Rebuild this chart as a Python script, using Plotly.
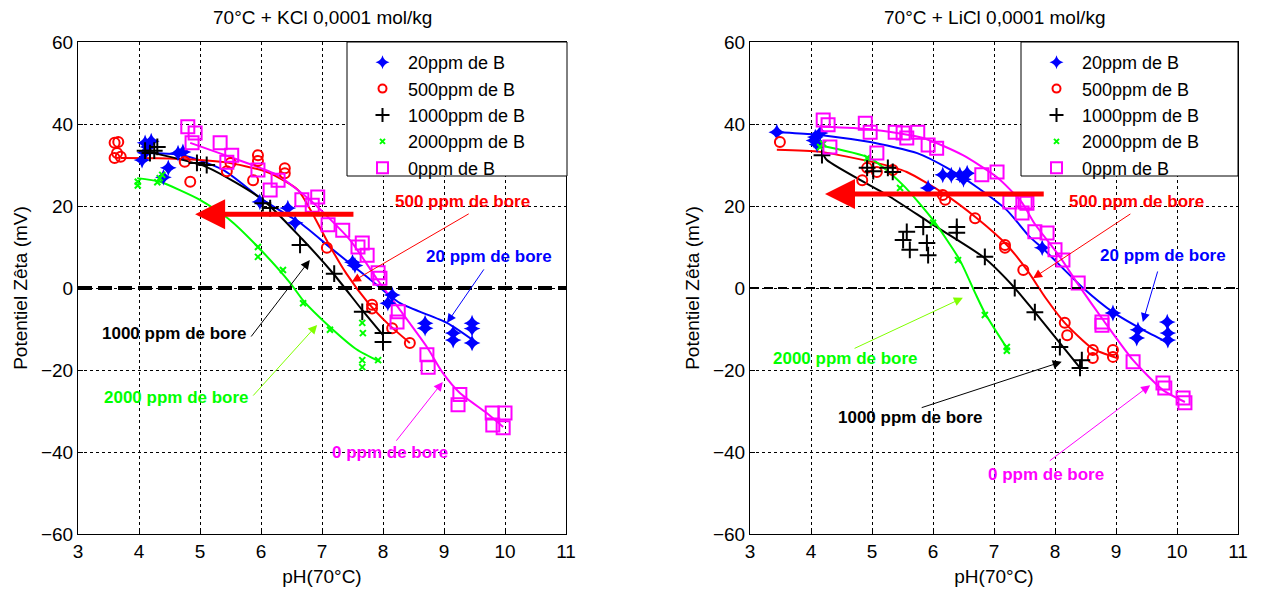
import plotly.graph_objects as go

# ---------------- data : left panel (KCl) ----------------
k20_x = [4.10, 4.15, 4.20, 4.05, 4.10, 4.48, 4.40, 4.64, 4.72, 5.98, 6.44, 6.56, 7.50, 7.54, 8.15, 8.08, 8.69, 8.69, 9.15, 9.15, 9.46, 9.46, 9.46]
k20_y = [35.4, 34.4, 35.8, 31.2, 33.0, 29.3, 27.0, 32.9, 33.2, 21.0, 19.5, 15.9, 6.3, 5.5, -1.7, -3.7, -8.6, -9.8, -11.0, -12.7, -8.6, -9.9, -13.4]
k20_fit_x = [4.02, 4.72, 5.38, 6.03, 6.64, 7.18, 7.74, 8.28, 9.05, 9.54]
k20_fit_y = [32.9, 32.4, 28.8, 21.5, 15.9, 9.3, 2.7, -3.7, -8.5, -13.4]

k500_x = [3.60, 3.66, 3.64, 3.60, 3.70, 4.75, 4.84, 5.44, 5.50, 5.95, 5.95, 5.87, 6.39, 6.39, 7.08, 7.82, 7.82, 8.15, 8.44]
k500_y = [35.4, 35.6, 32.9, 31.7, 32.0, 30.8, 25.9, 28.5, 30.5, 32.4, 31.0, 26.3, 29.2, 28.0, 9.8, -4.1, -5.0, -9.8, -13.4]
k500_fit_x = [3.70, 4.50, 5.40, 6.10, 6.60, 6.85, 7.10, 7.40, 7.75, 8.10, 8.44]
k500_fit_y = [31.7, 31.6, 30.7, 28.3, 24.0, 18.0, 11.0, 3.5, -3.5, -9.0, -13.4]

k1000_x = [4.30, 4.18, 4.10, 4.25, 4.95, 5.11, 6.03, 6.15, 6.64, 7.20, 7.66, 8.00, 8.00]
k1000_y = [34.4, 32.9, 33.5, 33.5, 30.5, 30.0, 20.7, 19.5, 10.5, 3.5, -5.8, -11.0, -13.2]
k1000_fit_x = [4.15, 5.11, 6.03, 6.67, 7.18, 7.66, 8.00]
k1000_fit_y = [33.2, 29.5, 21.5, 12.0, 3.6, -5.4, -11.5]

k2000_x = [3.98, 3.98, 4.34, 4.38, 4.30, 5.95, 5.95, 6.36, 6.69, 7.13, 7.66, 7.66, 7.92, 7.66, 7.67]
k2000_y = [25.9, 25.0, 26.8, 27.6, 25.8, 10.0, 7.6, 4.4, -3.7, -10.2, -17.6, -19.3, -17.6, -8.5, -11.0]
k2000_fit_x = [3.97, 4.34, 5.00, 5.49, 5.95, 6.48, 6.69, 7.13, 7.57, 7.95]
k2000_fit_y = [26.8, 25.9, 21.5, 16.6, 10.0, 1.2, -3.0, -9.5, -15.0, -18.0]

k0_x = [4.80, 4.92, 4.87, 5.33, 5.52, 5.44, 5.95, 6.15, 6.28, 6.67, 6.93, 6.84, 7.10, 7.34, 7.59, 7.66, 7.74, 7.92, 7.95,
        8.25, 8.23, 8.72, 8.74, 9.26, 9.23, 9.79, 10.00, 9.80, 9.97]
k0_y = [39.3, 37.8, 35.4, 35.4, 32.4, 30.7, 28.8, 23.9, 26.3, 21.5, 22.2, 20.2, 15.4, 14.1, 10.0, 11.0, 8.0, 3.7, 2.4,
        -5.8, -8.3, -16.3, -19.3, -26.0, -28.5, -30.5, -30.5, -33.4, -34.1]
k0_fit_x = [4.84, 5.54, 6.26, 6.80, 7.46, 7.90, 8.28, 8.72, 8.98, 9.26, 9.70, 9.97]
k0_fit_y = [35.4, 31.7, 27.6, 21.5, 11.7, 2.2, -5.4, -14.4, -20.7, -25.6, -30.5, -33.9]

# ---------------- data : right panel (LiCl) ----------------
l20_x = [3.44, 4.07, 4.10, 4.15, 4.05, 5.92, 6.16, 6.44, 6.56, 6.50, 6.30, 7.79, 8.95, 9.36, 9.34, 9.84, 9.85, 9.85]
l20_y = [38.0, 36.8, 35.0, 37.8, 36.0, 24.4, 27.6, 27.6, 28.0, 26.5, 27.5, 9.8, -6.1, -10.2, -12.2, -8.3, -11.0, -12.7]
l20_fit_x = [3.44, 4.03, 4.97, 5.74, 6.23, 6.74, 7.21, 7.59, 7.79, 8.46, 8.95, 9.44, 9.84]
l20_fit_y = [38.0, 37.5, 35.6, 32.9, 29.3, 24.4, 19.0, 12.4, 9.8, 0.0, -5.9, -10.2, -13.2]

l500_x = [3.49, 4.84, 4.92, 5.08, 5.34, 6.16, 6.20, 6.69, 7.18, 7.18, 7.48, 8.16, 8.20, 8.62, 8.62, 8.95, 8.95]
l500_y = [35.6, 26.3, 29.3, 28.3, 28.8, 22.7, 21.5, 17.0, 10.5, 9.8, 4.4, -8.5, -11.5, -15.1, -17.1, -15.1, -16.8]
l500_fit_x = [3.44, 4.15, 5.02, 5.57, 6.16, 6.72, 7.21, 7.54, 7.85, 8.16, 8.62, 9.02]
l500_fit_y = [33.7, 33.2, 30.7, 28.3, 23.2, 17.0, 10.5, 4.4, -2.5, -8.5, -14.8, -17.1]

l1000_x = [4.18, 4.92, 5.02, 5.26, 5.34, 5.57, 5.51, 5.62, 5.84, 5.90, 5.92, 6.39, 6.39, 6.85, 7.34, 7.67, 8.08, 8.44, 8.41]
l1000_y = [32.4, 29.3, 28.5, 29.3, 28.3, 13.7, 11.7, 9.3, 14.9, 11.0, 8.0, 14.9, 13.5, 7.6, 0.0, -5.9, -14.4, -17.6, -19.5]
l1000_fit_x = [4.18, 4.26, 5.30, 5.95, 6.82, 7.34, 7.67, 8.41]
l1000_fit_y = [33.2, 31.2, 22.2, 15.9, 7.6, 0.0, -5.9, -19.5]

l2000_x = [4.15, 4.20, 4.92, 5.46, 6.00, 6.41, 6.85, 7.21, 7.21]
l2000_y = [34.4, 35.2, 31.7, 24.4, 15.9, 6.8, -6.6, -14.4, -15.3]
l2000_fit_x = [4.11, 4.97, 5.51, 6.00, 6.44, 6.69, 6.85, 7.23]
l2000_fit_y = [34.9, 31.7, 25.1, 16.6, 6.8, -1.2, -6.1, -15.1]

l0_x = [4.20, 4.28, 4.31, 4.89, 4.97, 5.08, 5.38, 5.51, 5.57, 5.75, 5.92, 6.06, 6.80, 7.05, 7.26, 7.46, 7.51, 7.54,
        7.67, 7.87, 8.00, 8.13, 8.38, 8.77, 8.77, 9.28, 9.77, 9.80, 10.10, 10.13]
l0_y = [41.0, 39.8, 34.4, 40.2, 38.0, 32.9, 38.0, 37.8, 36.6, 38.0, 34.9, 34.1, 27.6, 28.3, 21.0, 18.3, 21.0, 20.7,
        13.7, 13.4, 9.3, 6.8, 1.2, -8.3, -9.1, -18.0, -23.2, -24.4, -26.8, -28.0]
l0_fit_x = [4.20, 4.97, 5.84, 6.49, 7.05, 7.45, 7.67, 8.08, 8.41, 8.79, 9.28, 9.77, 10.13]
l0_fit_y = [39.3, 38.7, 36.6, 32.4, 27.0, 21.0, 15.6, 7.6, 0.2, -7.8, -17.6, -24.9, -27.8]

# ---------------- labels ----------------
titles = ["70°C + KCl 0,0001 mol/kg", "70°C + LiCl 0,0001 mol/kg"]
legend_names = ["20ppm de B", "500ppm de B", "1000ppm de B", "2000ppm de B", "0ppm de B"]
x_title = "pH(70°C)"
y_title = "Potentiel Zêta (mV)"
x_ticks = [3, 4, 5, 6, 7, 8, 9, 10, 11]
y_ticks = [-60, -40, -20, 0, 20, 40, 60]

# annotation labels: text, text x, text y, arrow tail x, tail y, head x, head y
k_notes = [
    ("500 ppm de bore", 9.31, 21.0, 9.43, 18.3, 7.49, 1.5),
    ("20 ppm de bore", 9.74, 7.6, 9.67, 4.9, 9.05, -8.5),
    ("1000 ppm de bore", 4.58, -11.0, 5.82, -12.2, 6.80, 6.8),
    ("2000 ppm de bore", 4.61, -26.6, 5.85, -26.6, 6.92, -9.0),
    ("0 ppm de bore", 8.11, -40.2, 8.20, -37.6, 8.98, -22.9),
]
l_notes = [
    ("500 ppm de bore", 9.33, 21.0, 9.26, 18.3, 7.64, 2.4),
    ("20 ppm de bore", 9.77, 8.0, 9.69, 4.4, 9.44, -8.3),
    ("2000 ppm de bore", 4.57, -17.1, 4.69, -14.9, 6.49, -2.4),
    ("1000 ppm de bore", 5.63, -31.7, 5.79, -29.3, 8.11, -18.0),
    ("0 ppm de bore", 7.85, -45.6, 7.89, -42.4, 9.56, -23.7),
]
k_big_arrow = (7.54, 18.0, 4.92, 18.0)
l_big_arrow = (7.84, 22.9, 4.23, 22.9)

# ---------------- styles ----------------
BLUE, RED, BLACK, GREEN, MAG = "#0000ff", "#ff0000", "#000000", "#00ff00", "#ff00ff"
series_colors = [BLUE, RED, BLACK, GREEN, MAG]
symbols = ["star-diamond", "circle-open", "cross-thin", "x-thin", "square-open"]
sizes = [12, 10, 12, 6, 13]
legend_sizes = [10, 8, 10, 5, 11]
note_text_colors = {"500": RED, "20 ": BLUE, "100": BLACK, "200": GREEN, "0 p": MAG}
note_arrow_colors = {"500": RED, "20 ": BLUE, "100": BLACK, "200": "#80ff00", "0 p": MAG}
FONT = "Arial, Liberation Sans, sans-serif"

W, H = 1261, 590
def px(v):
    return v / W
def py(v):
    return 1 - v / H

fig = go.Figure()

panels = [
    ("x", "y", "legend",
     [(k20_x, k20_y, k20_fit_x, k20_fit_y), (k500_x, k500_y, k500_fit_x, k500_fit_y),
      (k1000_x, k1000_y, k1000_fit_x, k1000_fit_y), (k2000_x, k2000_y, k2000_fit_x, k2000_fit_y),
      (k0_x, k0_y, k0_fit_x, k0_fit_y)]),
    ("x2", "y2", "legend2",
     [(l20_x, l20_y, l20_fit_x, l20_fit_y), (l500_x, l500_y, l500_fit_x, l500_fit_y),
      (l1000_x, l1000_y, l1000_fit_x, l1000_fit_y), (l2000_x, l2000_y, l2000_fit_x, l2000_fit_y),
      (l0_x, l0_y, l0_fit_x, l0_fit_y)]),
]

for xa, ya, leg, series in panels:
    for i, (sx, sy, fx, fy) in enumerate(series):
        fig.add_trace(go.Scatter(x=fx, y=fy, mode="lines", xaxis=xa, yaxis=ya,
                                 line=dict(color=series_colors[i], width=2, shape="spline", smoothing=0.6),
                                 showlegend=False, hoverinfo="skip"))
    for i, (sx, sy, fx, fy) in enumerate(series):
        fig.add_trace(go.Scatter(x=sx, y=sy, mode="markers", xaxis=xa, yaxis=ya,
                                 name=legend_names[i], showlegend=False, legendgroup=leg + str(i),
                                 marker=dict(symbol=symbols[i], size=sizes[i], color=series_colors[i],
                                             line=dict(color=series_colors[i], width=2 if i != 0 else 0))))
    # legend entries (smaller symbols, as in the original legend box)
    for i in range(len(series)):
        fig.add_trace(go.Scatter(x=[None], y=[None], mode="markers", xaxis=xa, yaxis=ya,
                                 name=legend_names[i], legend=leg, legendgroup=leg + str(i),
                                 marker=dict(symbol=symbols[i], size=legend_sizes[i], color=series_colors[i],
                                             line=dict(color=series_colors[i], width=2 if i != 0 else 0))))

axis_common = dict(showgrid=True, gridcolor="black", griddash="3px,3px", gridwidth=1,
                   showline=True, linecolor="black", linewidth=1, mirror=True, zeroline=False,
                   ticks="inside", ticklen=5, tickcolor="black", automargin=False,
                   tickfont=dict(family=FONT, size=19, color="black"))

xdom = [[px(78), px(566)], [px(750), px(1238)]]
ydom = [py(534), py(42)]

for j, (xa, ya) in enumerate([("xaxis", "yaxis"), ("xaxis2", "yaxis2")]):
    ax = dict(axis_common)
    ax.update(range=[3, 11], tickvals=x_ticks, domain=xdom[j],
              anchor="y" if j == 0 else "y2",
              title=dict(text=x_title, font=dict(family=FONT, size=19, color="black"), standoff=8))
    ay = dict(axis_common)
    ay.update(range=[-60, 60], tickvals=y_ticks, domain=ydom,
              anchor="x" if j == 0 else "x2",
              title=dict(text=y_title, font=dict(family=FONT, size=19, color="black"), standoff=8))
    fig.layout[xa] = ax
    fig.layout[ya] = ay

shapes = []
shapes.append(dict(type="line", xref="x", yref="y", x0=3, x1=11, y0=0, y1=0,
                   line=dict(color="black", width=4, dash="14px,6px"), layer="above"))
shapes.append(dict(type="line", xref="x2", yref="y2", x0=3, x1=11, y0=0, y1=0,
                   line=dict(color="black", width=2, dash="9px,5px"), layer="above"))
for (l, r) in [(347, 567), (1021, 1238)]:
    shapes.append(dict(type="rect", xref="paper", yref="paper", x0=px(l), x1=px(r), y0=py(176), y1=py(42),
                       line=dict(color="black", width=1), fillcolor="white", layer="above"))
fig.update_layout(shapes=shapes)

annotations = []
for j, t in enumerate(titles):
    annotations.append(dict(text=t, xref="paper", yref="paper", x=px(322 if j == 0 else 994), y=py(18),
                            showarrow=False, xanchor="center", yanchor="middle",
                            font=dict(family=FONT, size=19, color="black")))

for xa, ya, notes, big in [("x", "y", k_notes, k_big_arrow), ("x2", "y2", l_notes, l_big_arrow)]:
    for (txt, tx, ty, ax0, ay0, hx, hy) in notes:
        key = txt[:3]
        annotations.append(dict(text="", x=hx, y=hy, ax=ax0, ay=ay0, xref=xa, yref=ya, axref=xa, ayref=ya,
                                showarrow=True, arrowhead=2, arrowsize=1.8, arrowwidth=1,
                                arrowcolor=note_arrow_colors[key], standoff=0))
        annotations.append(dict(text="<b>" + txt + "</b>", x=tx, y=ty, xref=xa, yref=ya, showarrow=False,
                                xanchor="center", yanchor="middle",
                                font=dict(family=FONT, size=17, color=note_text_colors[key])))
    annotations.append(dict(text="", x=big[2], y=big[3], ax=big[0], ay=big[1], xref=xa, yref=ya,
                            axref=xa, ayref=ya, showarrow=True, arrowhead=2, arrowsize=1.2,
                            arrowwidth=5, arrowcolor=RED, standoff=0))

fig.update_layout(annotations=annotations)

legend_common = dict(bgcolor="rgba(0,0,0,0)", borderwidth=0, font=dict(family=FONT, size=18, color="black"),
                     xanchor="left", yanchor="top", tracegroupgap=0, itemwidth=41)
fig.update_layout(
    legend=dict(legend_common, x=px(357), y=py(44)),
    legend2=dict(legend_common, x=px(1031), y=py(44)),
)

fig.update_layout(width=W, height=H, margin=dict(l=0, r=0, t=0, b=0),
                  paper_bgcolor="white", plot_bgcolor="white",
                  font=dict(family=FONT, color="black"))

fig.write_html("out.html", config={"displayModeBar": False},
               post_script="document.body.style.margin='0px';document.body.style.overflow='hidden';")
